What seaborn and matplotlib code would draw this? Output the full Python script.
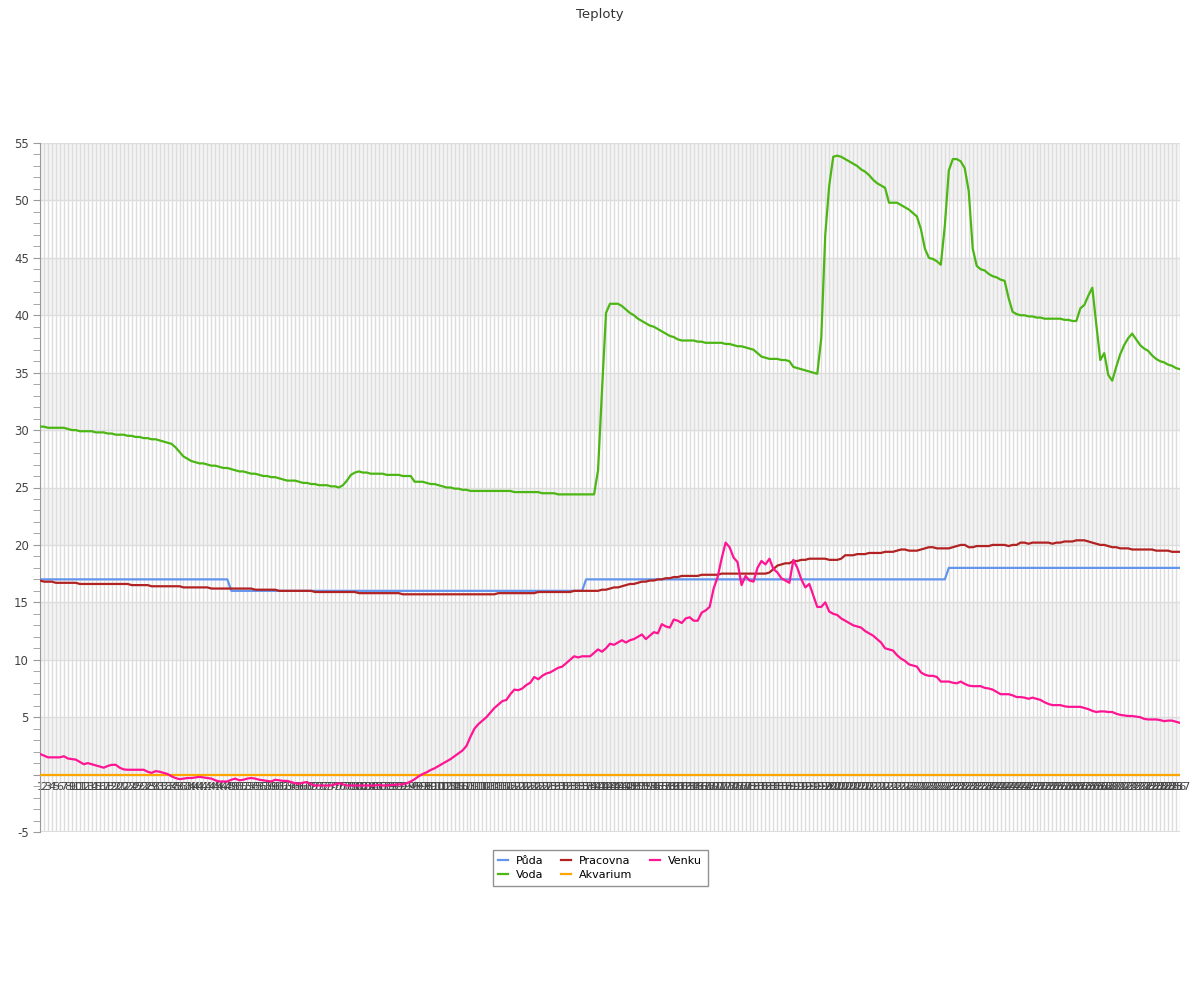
import pandas as pd
import seaborn as sns
import matplotlib.pyplot as plt
from matplotlib.ticker import MultipleLocator

# Data
TITLE = "Teploty"
SERIES = ["Půda", "Voda", "Pracovna", "Akvarium", "Venku"]
COLORS = ["#6495ed", "#4cb614", "#b22222", "#ffa500", "#ff1493"]
LABELS = [str(i) for i in range(1, 288)]

puda = [17.0] * 48 + [16.0] * 89 + [17.0] * 91 + [18.0] * 59

voda = [
    30.3, 30.3, 30.2, 30.2, 30.2, 30.2, 30.2, 30.1, 30.0, 30.0,
    29.9, 29.9, 29.9, 29.9, 29.8, 29.8, 29.8, 29.7, 29.7, 29.6,
    29.6, 29.6, 29.5, 29.5, 29.4, 29.4, 29.3, 29.3, 29.2, 29.2,
    29.1, 29.0, 28.9, 28.8, 28.5, 28.1, 27.7, 27.5, 27.3, 27.2,
    27.1, 27.1, 27.0, 26.9, 26.9, 26.8, 26.7, 26.7, 26.6, 26.5,
    26.4, 26.4, 26.3, 26.2, 26.2, 26.1, 26.0, 26.0, 25.9, 25.9,
    25.8, 25.7, 25.6, 25.6, 25.6, 25.5, 25.4, 25.4, 25.3, 25.3,
    25.2, 25.2, 25.2, 25.1, 25.1, 25.0, 25.2, 25.6, 26.1, 26.3,
    26.4, 26.3, 26.3, 26.2, 26.2, 26.2, 26.2, 26.1, 26.1, 26.1,
    26.1, 26.0, 26.0, 26.0, 25.5, 25.5, 25.5, 25.4, 25.3, 25.3,
    25.2, 25.1, 25.0, 25.0, 24.9, 24.9, 24.8, 24.8, 24.7, 24.7,
    24.7, 24.7, 24.7, 24.7, 24.7, 24.7, 24.7, 24.7, 24.7, 24.6,
    24.6, 24.6, 24.6, 24.6, 24.6, 24.6, 24.5, 24.5, 24.5, 24.5,
    24.4, 24.4, 24.4, 24.4, 24.4, 24.4, 24.4, 24.4, 24.4, 24.4,
    26.5, 33.5, 40.2, 41.0, 41.0, 41.0, 40.8, 40.5, 40.2, 40.0,
    39.7, 39.5, 39.3, 39.1, 39.0, 38.8, 38.6, 38.4, 38.2, 38.1,
    37.9, 37.8, 37.8, 37.8, 37.8, 37.7, 37.7, 37.6, 37.6, 37.6,
    37.6, 37.6, 37.5, 37.5, 37.4, 37.3, 37.3, 37.2, 37.1, 37.0,
    36.7, 36.4, 36.3, 36.2, 36.2, 36.2, 36.1, 36.1, 36.0, 35.5,
    35.4, 35.3, 35.2, 35.1, 35.0, 34.9, 38.0, 47.0, 51.3, 53.8,
    53.9, 53.8, 53.6, 53.4, 53.2, 53.0, 52.7, 52.5, 52.2, 51.8,
    51.5, 51.3, 51.1, 49.8, 49.8, 49.8, 49.6, 49.4, 49.2, 48.9,
    48.6, 47.5, 45.8, 45.0, 44.9, 44.7, 44.4, 47.8, 52.6, 53.6,
    53.6, 53.4, 52.8, 50.8, 45.8, 44.3, 44.0, 43.9, 43.6, 43.4,
    43.3, 43.1, 43.0, 41.5, 40.3, 40.1, 40.0, 40.0, 39.9, 39.9,
    39.8, 39.8, 39.7, 39.7, 39.7, 39.7, 39.7, 39.6, 39.6, 39.5,
    39.5, 40.6, 40.9, 41.7, 42.4, 39.2, 36.1, 36.7, 34.8, 34.3,
    35.5, 36.6, 37.4, 38.0, 38.4, 37.9, 37.4, 37.1, 36.9, 36.5,
    36.2, 36.0, 35.9, 35.7, 35.6, 35.4, 35.3,
]

pracovna = [
    16.9, 16.8, 16.8, 16.8, 16.7, 16.7, 16.7, 16.7, 16.7, 16.7,
    16.6, 16.6, 16.6, 16.6, 16.6, 16.6, 16.6, 16.6, 16.6, 16.6,
    16.6, 16.6, 16.6, 16.5, 16.5, 16.5, 16.5, 16.5, 16.4, 16.4,
    16.4, 16.4, 16.4, 16.4, 16.4, 16.4, 16.3, 16.3, 16.3, 16.3,
    16.3, 16.3, 16.3, 16.2, 16.2, 16.2, 16.2, 16.2, 16.2, 16.2,
    16.2, 16.2, 16.2, 16.2, 16.1, 16.1, 16.1, 16.1, 16.1, 16.1,
    16.0, 16.0, 16.0, 16.0, 16.0, 16.0, 16.0, 16.0, 16.0, 15.9,
    15.9, 15.9, 15.9, 15.9, 15.9, 15.9, 15.9, 15.9, 15.9, 15.9,
    15.8, 15.8, 15.8, 15.8, 15.8, 15.8, 15.8, 15.8, 15.8, 15.8,
    15.8, 15.7, 15.7, 15.7, 15.7, 15.7, 15.7, 15.7, 15.7, 15.7,
    15.7, 15.7, 15.7, 15.7, 15.7, 15.7, 15.7, 15.7, 15.7, 15.7,
    15.7, 15.7, 15.7, 15.7, 15.7, 15.8, 15.8, 15.8, 15.8, 15.8,
    15.8, 15.8, 15.8, 15.8, 15.8, 15.9, 15.9, 15.9, 15.9, 15.9,
    15.9, 15.9, 15.9, 15.9, 16.0, 16.0, 16.0, 16.0, 16.0, 16.0,
    16.0, 16.1, 16.1, 16.2, 16.3, 16.3, 16.4, 16.5, 16.6, 16.6,
    16.7, 16.8, 16.8, 16.9, 16.9, 17.0, 17.0, 17.1, 17.1, 17.2,
    17.2, 17.3, 17.3, 17.3, 17.3, 17.3, 17.4, 17.4, 17.4, 17.4,
    17.4, 17.5, 17.5, 17.5, 17.5, 17.5, 17.5, 17.5, 17.5, 17.5,
    17.5, 17.5, 17.5, 17.6, 17.9, 18.2, 18.3, 18.4, 18.4, 18.6,
    18.6, 18.7, 18.7, 18.8, 18.8, 18.8, 18.8, 18.8, 18.7, 18.7,
    18.7, 18.8, 19.1, 19.1, 19.1, 19.2, 19.2, 19.2, 19.3, 19.3,
    19.3, 19.3, 19.4, 19.4, 19.4, 19.5, 19.6, 19.6, 19.5, 19.5,
    19.5, 19.6, 19.7, 19.8, 19.8, 19.7, 19.7, 19.7, 19.7, 19.8,
    19.9, 20.0, 20.0, 19.8, 19.8, 19.9, 19.9, 19.9, 19.9, 20.0,
    20.0, 20.0, 20.0, 19.9, 20.0, 20.0, 20.2, 20.2, 20.1, 20.2,
    20.2, 20.2, 20.2, 20.2, 20.1, 20.2, 20.2, 20.3, 20.3, 20.3,
    20.4, 20.4, 20.4, 20.3, 20.2, 20.1, 20.0, 20.0, 19.9, 19.8,
    19.8, 19.7, 19.7, 19.7, 19.6, 19.6, 19.6, 19.6, 19.6, 19.6,
    19.5, 19.5, 19.5, 19.5, 19.4, 19.4, 19.4,
]

akvarium = [0.0] * 287

venku = [
    1.8, 1.65, 1.5, 1.5, 1.5, 1.5, 1.6, 1.4, 1.35, 1.3,
    1.1, 0.9, 1.0, 0.9, 0.8, 0.7, 0.6, 0.75, 0.85, 0.85,
    0.6, 0.45, 0.42, 0.42, 0.42, 0.42, 0.42, 0.25, 0.15, 0.3,
    0.25, 0.15, 0.05, -0.15, -0.3, -0.4, -0.35, -0.3, -0.3, -0.25,
    -0.2, -0.25, -0.3, -0.35, -0.5, -0.6, -0.6, -0.6, -0.45, -0.35,
    -0.5, -0.45, -0.35, -0.3, -0.35, -0.45, -0.5, -0.55, -0.6, -0.45,
    -0.5, -0.55, -0.55, -0.65, -0.75, -0.8, -0.7, -0.65, -0.85, -0.95,
    -0.95, -0.95, -0.95, -0.95, -0.85, -0.75, -0.85, -0.95, -0.95, -0.95,
    -0.95, -0.95, -0.95, -0.95, -0.95, -0.9, -0.95, -0.95, -0.9, -0.9,
    -0.85, -0.85, -0.75, -0.6, -0.4, -0.15, 0.05, 0.2, 0.4, 0.55,
    0.75, 0.95, 1.15, 1.35, 1.6, 1.85, 2.1, 2.5, 3.3, 4.0,
    4.4, 4.7, 5.0, 5.4, 5.8, 6.1, 6.4, 6.5, 7.0, 7.4,
    7.35, 7.5, 7.8, 8.0, 8.5, 8.3, 8.6, 8.8, 8.9, 9.1,
    9.3, 9.4, 9.7, 10.0, 10.3, 10.2, 10.3, 10.3, 10.3, 10.6,
    10.9, 10.7, 11.0, 11.4, 11.3, 11.5, 11.7, 11.5, 11.7, 11.8,
    12.0, 12.2, 11.8, 12.1, 12.4, 12.3, 13.1, 12.9, 12.8, 13.5,
    13.4, 13.2, 13.6, 13.7, 13.4, 13.4, 14.1, 14.3, 14.6, 16.2,
    17.2, 18.8, 20.2, 19.8, 18.9, 18.5, 16.5, 17.3, 16.9, 16.8,
    18.0, 18.6, 18.3, 18.8, 17.9, 17.6, 17.1, 16.9, 16.7, 18.7,
    18.0, 17.0, 16.3, 16.6, 15.6, 14.6, 14.6, 15.0, 14.2, 14.0,
    13.9, 13.6, 13.4, 13.2, 13.0, 12.9, 12.8, 12.5, 12.3, 12.1,
    11.8, 11.5, 11.0, 10.9, 10.8, 10.4, 10.1, 9.9, 9.6, 9.5,
    9.4, 8.9, 8.7, 8.6, 8.6, 8.5, 8.1, 8.1, 8.1, 8.0,
    7.95, 8.1, 7.9, 7.75, 7.7, 7.7, 7.7, 7.55, 7.5, 7.4,
    7.2, 7.0, 7.0, 7.0, 6.9, 6.75, 6.75, 6.7, 6.6, 6.7,
    6.6, 6.5, 6.3, 6.15, 6.05, 6.05, 6.05, 5.95, 5.9, 5.9,
    5.9, 5.9, 5.8, 5.7, 5.55, 5.45, 5.5, 5.5, 5.45, 5.45,
    5.3, 5.2, 5.15, 5.1, 5.1, 5.05, 5.0, 4.85, 4.8, 4.8,
    4.8, 4.75, 4.65, 4.7, 4.7, 4.6, 4.5,
]


def build_frame():
    """Long-form table: one row per point and series."""
    frames = []
    for name, values in zip(SERIES, [puda, voda, pracovna, akvarium, venku]):
        frames.append(pd.DataFrame({
            "pos": range(len(values)),
            "teplota": values,
            "serie": name,
        }))
    return pd.concat(frames, ignore_index=True)


df = build_frame()

fig = plt.figure(figsize=(12, 10), dpi=100)
ax = fig.add_axes([40 / 1200, 168 / 1000, 1140 / 1200, 689 / 1000])

# alternating horizontal bands
for lo in range(0, 55, 10):
    ax.axhspan(lo, lo + 5, color="#f4f4f4", zorder=0, lw=0)

sns.lineplot(data=df, x="pos", y="teplota", hue="serie",
             hue_order=SERIES, palette=COLORS, linewidth=1.6,
             estimator=None, sort=False, ax=ax, zorder=3)

ax.set_xlim(0, len(LABELS) - 1)
ax.set_ylim(-5, 55)

# x axis sits on the zero line
ax.spines["bottom"].set_position(("data", 0))
ax.spines["bottom"].set_visible(False)
ax.spines["top"].set_visible(False)
ax.spines["right"].set_visible(False)
ax.spines["left"].set_color("#999999")

ax.set_xticks(range(len(LABELS)))
ax.set_xticklabels(LABELS, fontsize=8, color="#444444")
ax.tick_params(axis="x", length=0, pad=5)

yticks = list(range(-5, 56, 5))
ax.set_yticks(yticks)
ax.set_yticklabels(["" if t == 0 else str(t) for t in yticks],
                   fontsize=8.5, color="#444444")
ax.yaxis.set_minor_locator(MultipleLocator(1))
ax.tick_params(axis="y", which="both", length=5, color="#999999", pad=3)

ax.grid(True, axis="both", which="major", color="#dddddd", lw=1, zorder=1)
ax.set_axisbelow(True)
ax.axhline(-5, color="#dddddd", lw=1.5, zorder=1)
ax.axhline(55, color="#dddddd", lw=1.5, zorder=1)

ax.set_xlabel("")
ax.set_ylabel("")

handles, labels = ax.get_legend_handles_labels()
ax.legend_.remove()
leg = fig.legend(handles, labels, loc="center", ncol=3,
                 bbox_to_anchor=(0.5, 0.132), fontsize=8,
                 frameon=True, fancybox=False, edgecolor="#777777",
                 handlelength=0.9, handletextpad=0.7, columnspacing=1.6,
                 borderpad=0.5, labelspacing=0.4)
leg.get_frame().set_linewidth(1)

fig.text(0.5, 0.992, TITLE, ha="center", va="top", fontsize=9.5,
         color="#333333")

fig.savefig("out.png", dpi=100)
